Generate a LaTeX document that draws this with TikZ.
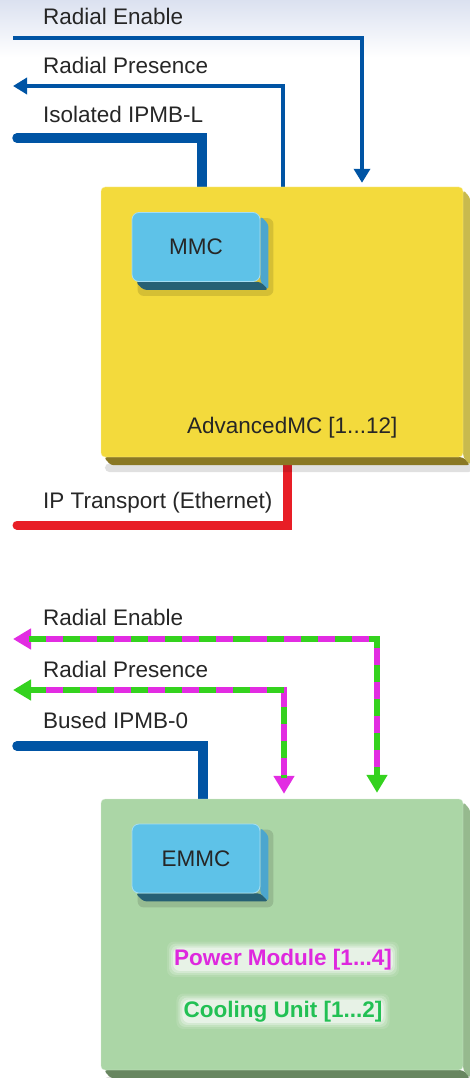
\documentclass[tikz,border=0pt]{standalone}
\usepackage{fontspec}
\setmainfont{Liberation Sans}
\usetikzlibrary{arrows.meta,calc,backgrounds}
\pgfdeclarelayer{boards}
\pgfdeclarelayer{shade}
\pgfsetlayers{background,boards,shade,main}
\definecolor{bandtop}{RGB}{219,225,240}
\definecolor{txtgrey}{RGB}{38,38,38}
\definecolor{linkblue}{RGB}{0,84,164}
\definecolor{ethred}{RGB}{232,30,38}
\definecolor{dashmag}{RGB}{226,44,226}
\definecolor{dashgrn}{RGB}{52,210,30}
\definecolor{amcyellow}{RGB}{243,218,60}
\definecolor{amcside}{RGB}{200,186,78}
\definecolor{amcbot}{RGB}{138,120,36}
\definecolor{pmgreen}{RGB}{171,214,166}
\definecolor{pmside}{RGB}{150,185,142}
\definecolor{pmbot}{RGB}{104,134,96}
\definecolor{chipblue}{RGB}{94,194,232}
\definecolor{chipside}{RGB}{76,166,206}
\definecolor{chipbot}{RGB}{38,96,116}
\definecolor{pwrmag}{RGB}{222,40,222}
\definecolor{coolgrn}{RGB}{34,192,84}
\tikzset{
lbl/.style={anchor=base west,inner sep=0pt,text=txtgrey,font=\fontsize{22.5}{27}\selectfont},
board/.style={rounded corners=4pt,minimum width=362pt,inner sep=0pt},
chip/.style={rounded corners=7pt,fill=chipblue,draw=white!45!chipblue,line width=.8pt,minimum width=128pt,minimum height=69pt,inner sep=0pt,text=txtgrey,font=\fontsize{22.5}{27}\selectfont},
unitlbl/.style={anchor=base,inner sep=0pt,font=\fontsize{22.5}{27}\selectfont\bfseries},
bluelink/.style={draw=linkblue,line width=4pt,-{Triangle[width=16pt,length=14pt]}},
ipmb/.style={draw=linkblue,line width=9.5pt,line cap=round},
eth/.style={draw=ethred,line width=9pt,line cap=round},
radial/.style={draw=dashmag,line width=5.5pt},
radialdash/.style={draw=dashgrn,line width=5.5pt,dash pattern=on 17pt off 17pt,shorten <=16pt,shorten >=16pt},
magtip/.tip={Triangle[width=20pt,length=18pt,color=dashmag]},
grntip/.tip={Triangle[width=20pt,length=18pt,color=dashgrn]}
}

\begin{document}
\begin{tikzpicture}[x=1pt,y=-1pt]
	\useasboundingbox (0,0) rectangle (470,1078);
	% boards
	\begin{pgfonlayer}{boards}
		\node[board,fill=amcyellow,draw=white!55!amcyellow,minimum height=270pt] (amc) at (282,322) {};
		\node[board,fill=pmgreen,draw=white!50!pmgreen,minimum height=271pt] (pmcu) at (282,934.5) {};
	\end{pgfonlayer}
	\node[lbl] (amclbl) at (187,433) {AdvancedMC [1...12]};
	\node[unitlbl,text=pwrmag] (pwrlbl) at (283,965) {Power Module [1...4]};
	\node[unitlbl,text=coolgrn] (coollbl) at (283,1017) {Cooling Unit [1...2]};

	% chips
	\node[chip] (mmc) at (196,247) {MMC};
	\node[chip] (emmc) at (196,858.5) {EMMC};

	\begin{pgfonlayer}{shade}
		\foreach \b in {mmc,emmc}{
			\fill[black,opacity=.12,rounded corners=6pt] ([shift={(6pt,-6pt)}]\b.north west) rectangle ([shift={(13pt,-14pt)}]\b.south east);
			\fill[chipside,rounded corners=3pt] ([yshift=-4pt]\b.north east) -- ++(8pt,-8pt) -- ([shift={(8pt,-8pt)}]\b.south east) -- (\b.south east) -- cycle;
			\fill[chipbot,rounded corners=3pt] ([xshift=4pt]\b.south west) -- ++(8pt,-8pt) -- ([shift={(8pt,-8pt)}]\b.south east) -- (\b.south east) -- cycle;
		}
		% glow behind unit names
		\foreach \t in {pwrlbl,coollbl}{
			\foreach \g/\o in {1/.45,3/.3,5/.2,7/.12}{
				\fill[white,opacity=\o,rounded corners=7pt] ([shift={(-\g pt,-\g pt)}]\t.south west) rectangle ([shift={(\g pt,\g pt)}]\t.north east);
			}
		}
	\end{pgfonlayer}

	% signal labels
	\node[lbl] (re1) at (43,25) {Radial Enable};
	\node[lbl] (rp1) at (43,74) {Radial Presence};
	\node[lbl] (ipl) at (43,123) {Isolated IPMB-L};
	\node[lbl] (ipt) at (43,508) {IP Transport (Ethernet)};
	\node[lbl] (re2) at (43,625) {Radial Enable};
	\node[lbl] (rp2) at (43,677) {Radial Presence};
	\node[lbl] (ip0) at (43,728) {Bused IPMB-0};

	% free ends
	\coordinate (re1in) at (13,38);
	\coordinate (rp1out) at (13,86);
	\coordinate (iplin) at (17,138);
	\coordinate (ethout) at (17,525);
	\coordinate (re2out) at (13,639);
	\coordinate (rp2out) at (13,690);
	\coordinate (ip0in) at (17,746);

	\begin{scope}[on background layer]
		\shade[top color=bandtop,bottom color=white] (0,0) rectangle (470,57);
		% links
		\draw[bluelink] (re1in) -| ([xshift=80pt,yshift=4pt]amc.north);
		\draw[bluelink] ([xshift=1pt]amc.north) |- (rp1out);
		\draw[ipmb] (iplin) -| ([xshift=-80pt]amc.north);
		\draw[eth] ([xshift=5pt]amc.south) |- (ethout);
		\draw[radial,magtip-grntip] (re2out) -| ([xshift=95pt,yshift=6pt]pmcu.north);
		\draw[radialdash] (re2out) -| ([xshift=95pt,yshift=6pt]pmcu.north);
		\draw[radial,grntip-magtip] (rp2out) -| ([xshift=2pt,yshift=5pt]pmcu.north);
		\draw[radialdash] (rp2out) -| ([xshift=2pt,yshift=5pt]pmcu.north);
		\draw[ipmb] (ip0in) -| ([xshift=-79pt]pmcu.north);
		% board depth
		\foreach \b/\sd/\bt in {amc/amcside/amcbot,pmcu/pmside/pmbot}{
			\fill[black,opacity=.12,rounded corners=5pt] ([shift={(4pt,-6pt)}]\b.south west) rectangle ([shift={(10pt,-15pt)}]\b.south east);
			\fill[\sd,rounded corners=3pt] ([yshift=-3pt]\b.north east) -- ++(7pt,-8pt) -- ([shift={(7pt,-8pt)}]\b.south east) -- (\b.south east) -- cycle;
			\fill[\bt,rounded corners=3pt] ([xshift=3pt]\b.south west) -- ++(7pt,-8pt) -- ([shift={(7pt,-8pt)}]\b.south east) -- (\b.south east) -- cycle;
		}
	\end{scope}
\end{tikzpicture}
\end{document}
